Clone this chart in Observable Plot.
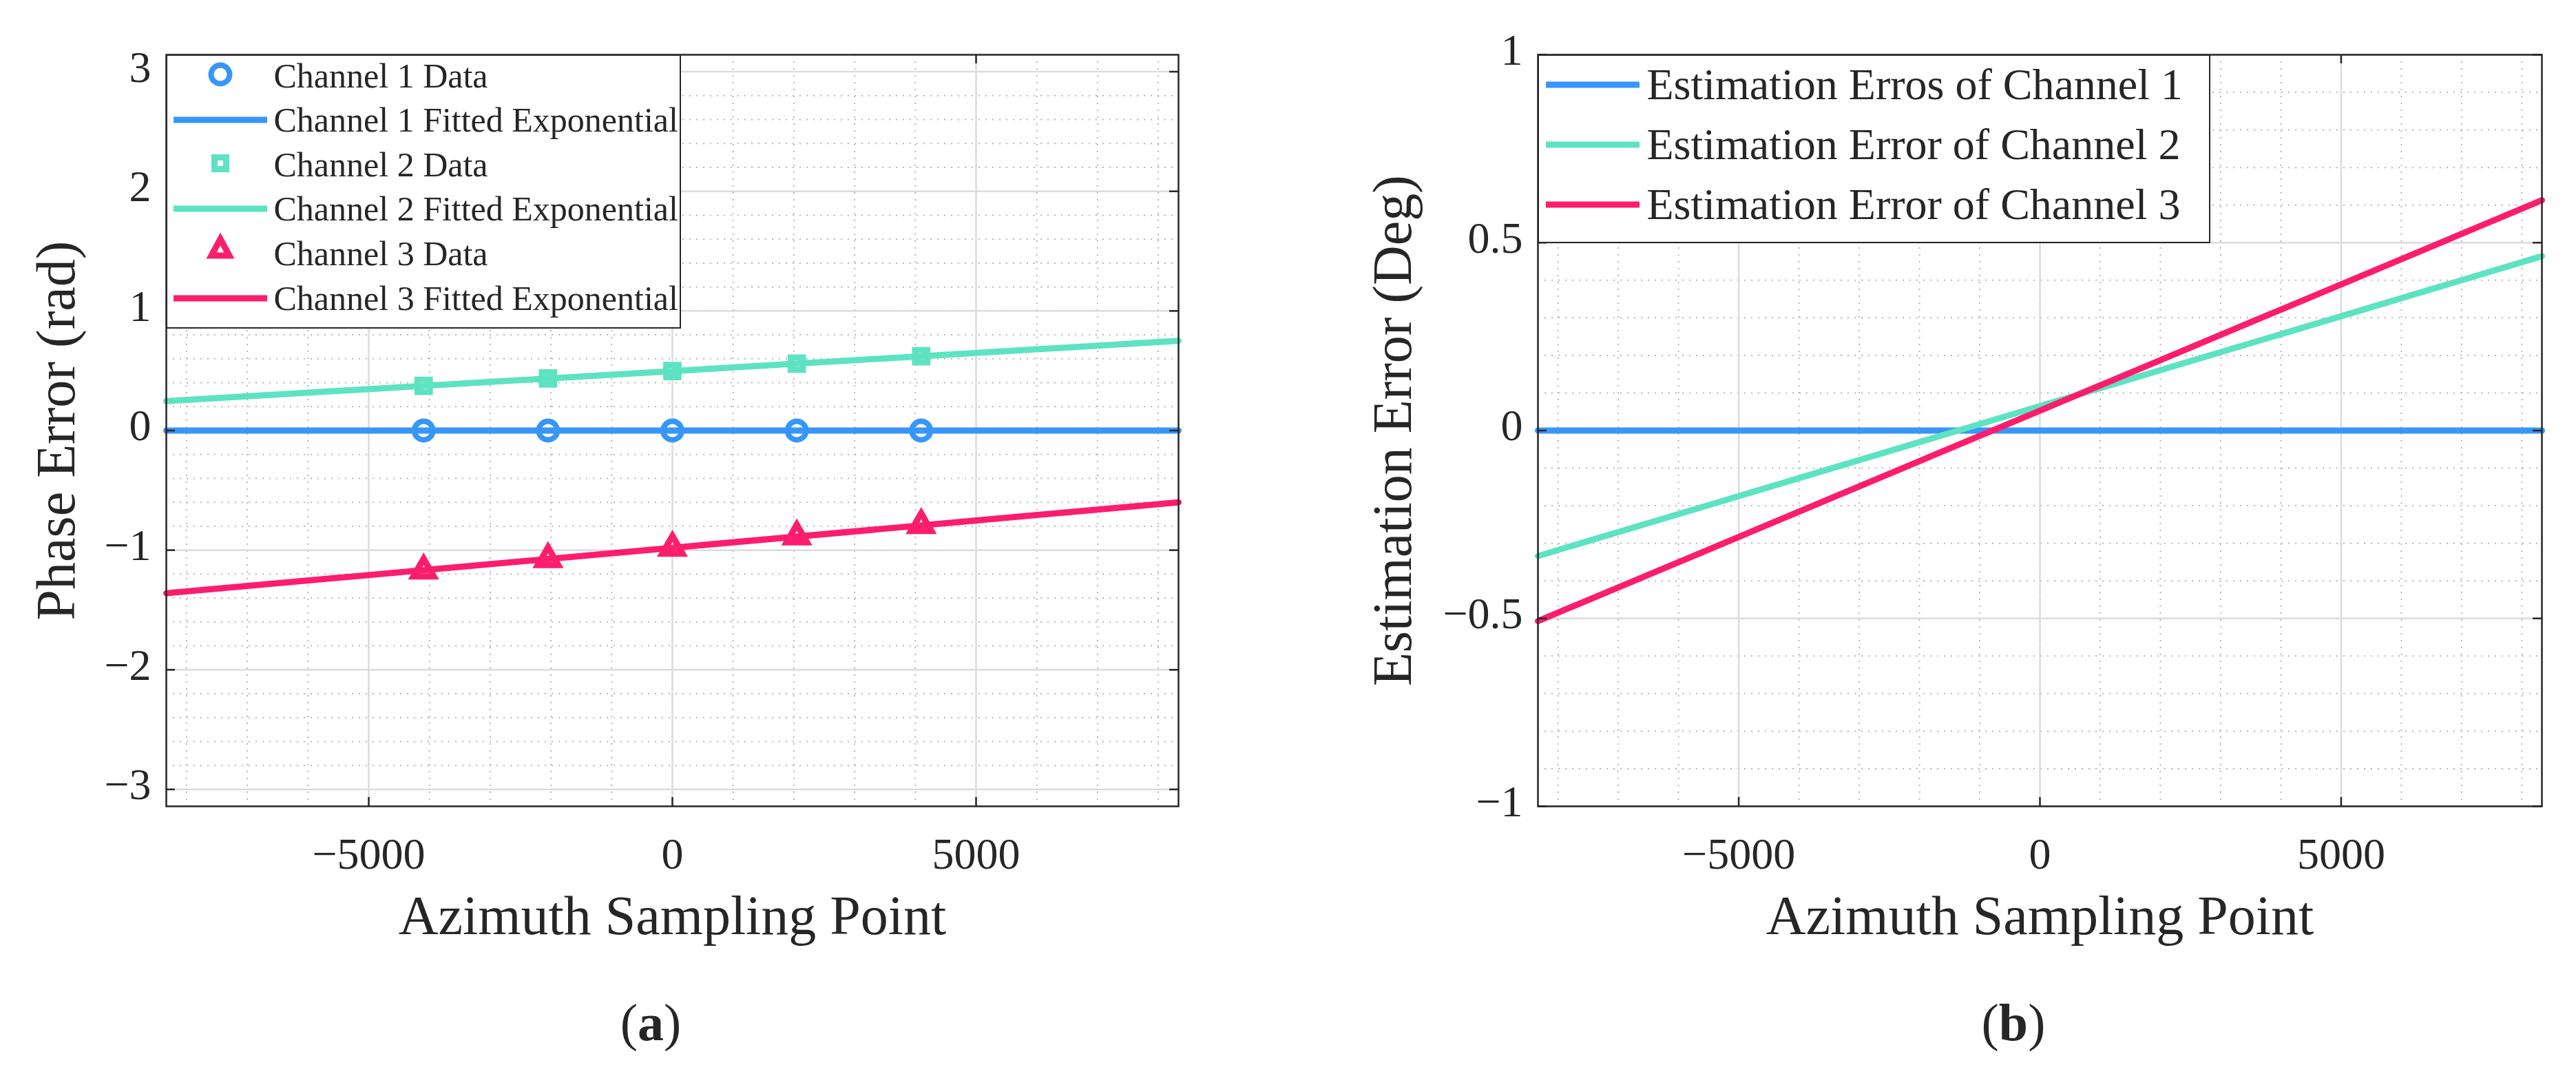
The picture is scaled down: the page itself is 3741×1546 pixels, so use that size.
<!DOCTYPE html>
<html>
<head>
<meta charset="utf-8">
<script src="https://cdn.jsdelivr.net/npm/d3@7"></script>
<script src="https://cdn.jsdelivr.net/npm/@observablehq/plot@0.6"></script>
<style>
  html, body { margin: 0; padding: 0; background: #fff; }
  #fig { position: relative; width: 3741px; height: 1546px; background: #fff;
         font-family: "Liberation Serif", serif; color: #262626; }
  .panel { position: absolute; top: 0; height: 1546px; }
  .legend { position: absolute; background: #fff; border: 2.5px solid #262626; box-sizing: border-box; }
  .row { position: absolute; left: 0; display: flex; align-items: center; white-space: nowrap; line-height: 1; }
  .row svg { position: absolute; left: 0; }
  .row span { position: absolute; }
  .cap { position: absolute; font-size: 76px; line-height: 1; text-align: center; width: 300px; }
</style>
</head>
<body>
<div id="fig">
  <div class="panel" id="panelA" style="left:0; width:1870px"></div>
  <div class="panel" id="panelB" style="left:1870px; width:1871px"></div>
  <div class="cap" style="left:795px; top:1446px">(<b>a</b>)</div>
  <div class="cap" style="left:2774px; top:1446px">(<b>b</b>)</div>
</div>
<script>
// valores
const xDomain = [-8333, 8333];
const xTicks = [-5000, 0, 5000];
const xMinor = d3.range(-8000, 8001, 1000);
const yTicksA = [-3, -2, -1, 0, 1, 2, 3];
const yMinorA = d3.range(-30, 31, 2).map(d => d / 10);
const yTicksB = [-1, -0.5, 0, 0.5, 1];
const yMinorB = d3.range(-10, 11, 1).map(d => d / 10);

// (a) datos de fase por canal
const sampleX = [-4096, -2048, 0, 2048, 4096];
const ch1Data = [0, 0, 0, 0, 0];
const ch2Data = [0.373, 0.435, 0.497, 0.559, 0.621];
const ch3Data = [-1.17, -1.075, -0.98, -0.885, -0.79];

const fitX = [-8333, 0, 8333];
const ch1Fit = [0, 0, 0];
const ch2Fit = [0.246, 0.497, 0.75];
const ch3Fit = [-1.36, -0.98, -0.60];

// (b) errores de estimación
const errX = [-8333, 0, 8333];
const err1 = [0, 0, 0];
const err2 = [-0.334, 0.065, 0.464];
const err3 = [-0.507, 0.053, 0.613];

const colors = ["#3796f8", "#5de3c2", "#fd1d6d"];
const ink = "#262626";
const fmt = d3.format("");

function panel({width, marginLeft, marginRight, yDomain, yTicks, yMinor, yLabel, labelDx, marks}) {
  const top = 79, bottom = 1170, H = 1546, tick = 13;
  const plotW = width - marginLeft - marginRight, plotH = bottom - top;
  return Plot.plot({
    width, height: H, marginLeft, marginRight, marginTop: top, marginBottom: H - bottom,
    style: {fontFamily: '"Liberation Serif", serif', fontSize: "64px", color: ink,
            background: "transparent", overflow: "visible"},
    x: {domain: xDomain, label: null},
    y: {domain: yDomain, label: null},
    marks: [
      Plot.gridX(xMinor, {stroke: "#b8b8b8", strokeOpacity: 1, strokeWidth: 2, strokeDasharray: "2,8"}),
      Plot.gridY(yMinor, {stroke: "#b8b8b8", strokeOpacity: 1, strokeWidth: 2, strokeDasharray: "2,8"}),
      Plot.gridX(xTicks, {stroke: "#dcdcdc", strokeOpacity: 1, strokeWidth: 2.5}),
      Plot.gridY(yTicks, {stroke: "#dcdcdc", strokeOpacity: 1, strokeWidth: 2.5}),
      ...marks,
      // ticks hacia dentro, en los cuatro lados
      Plot.tickX(xTicks, {x: d => d, insetTop: plotH - tick, stroke: ink, strokeWidth: 2.5}),
      Plot.tickX(xTicks, {x: d => d, insetBottom: plotH - tick, stroke: ink, strokeWidth: 2.5}),
      Plot.tickY(yTicks, {y: d => d, insetRight: plotW - tick, stroke: ink, strokeWidth: 2.5}),
      Plot.tickY(yTicks, {y: d => d, insetLeft: plotW - tick, stroke: ink, strokeWidth: 2.5}),
      Plot.frame({stroke: ink, strokeWidth: 2.5}),
      Plot.axisX(xTicks, {tickSize: 0, tickPadding: 45, label: null, tickFormat: fmt}),
      Plot.axisY(yTicks, {tickSize: 0, tickPadding: 22, label: null, tickFormat: fmt, dy: -6}),
      Plot.text([yLabel], {frameAnchor: "left", textAnchor: "middle", dx: labelDx, rotate: -90, fontSize: 80, fill: ink}),
      Plot.text(["Azimuth Sampling Point"], {frameAnchor: "bottom", textAnchor: "middle", dy: 185, fontSize: 80, fill: ink})
    ]
  });
}

const fitLine = (xs, ys, c) => Plot.line(xs, {x: d => d, y: (d, i) => ys[i], stroke: c, strokeWidth: 9});

const chartA = panel({
  width: 1870, marginLeft: 241, marginRight: 159,
  yDomain: [-Math.PI, Math.PI], yTicks: yTicksA, yMinor: yMinorA,
  yLabel: "Phase Error (rad)", labelDx: -159,
  marks: [
    Plot.dot(sampleX, {x: d => d, y: (d, i) => ch1Data[i], r: 13.5, stroke: colors[0], strokeWidth: 8, fill: "white"}),
    Plot.dot(sampleX, {x: d => d, y: (d, i) => ch2Data[i], symbol: "square", r: 10, stroke: colors[1], strokeWidth: 9, fill: "white"}),
    Plot.dot(sampleX, {x: d => d, y: (d, i) => ch3Data[i], symbol: "triangle", r: 11, stroke: colors[2], strokeWidth: 9, fill: "white", strokeLinejoin: "miter"}),
    fitLine(fitX, ch1Fit, colors[0]),
    fitLine(fitX, ch2Fit, colors[1]),
    fitLine(fitX, ch3Fit, colors[2])
  ]
});
d3.select("#panelA").append(() => chartA);

const chartB = panel({
  width: 1871, marginLeft: 363, marginRight: 50,
  yDomain: [-1, 1], yTicks: yTicksB, yMinor: yMinorB,
  yLabel: "Estimation Error (Deg)", labelDx: -210,
  marks: [
    fitLine(errX, err1, colors[0]),
    fitLine(errX, err2, colors[1]),
    fitLine(errX, err3, colors[2])
  ]
});
d3.select("#panelB").append(() => chartB);

// leyendas (cajas dentro del área del gráfico)
function swatch(kind, c, cx) {
  const cy = 29;
  if (kind === "line") return `<line x1="${cx - 68}" x2="${cx + 68}" y1="${cy}" y2="${cy}" stroke="${c}" stroke-width="9"/>`;
  if (kind === "circle") return `<circle cx="${cx}" cy="${cy - 2}" r="13.5" fill="white" stroke="${c}" stroke-width="8"/>`;
  if (kind === "square") return `<rect x="${cx - 8.5}" y="${cy - 10.5}" width="17" height="17" fill="white" stroke="${c}" stroke-width="9"/>`;
  return `<polygon points="${cx},${cy - 21} ${cx + 13},${cy + 3} ${cx - 13},${cy + 3}" fill="white" stroke="${c}" stroke-width="9" stroke-linejoin="miter"/>`;
}

function legend({left, top, width, height, rows, fontSize, first, step, cx, textLeft}) {
  const box = d3.select("#fig").append("div").attr("class", "legend")
    .style("left", left + "px").style("top", top + "px")
    .style("width", width + "px").style("height", height + "px");
  rows.forEach((r, i) => {
    const row = box.append("div").attr("class", "row")
      .style("top", (first + i * step - 2.5 - 24) + "px").style("height", "48px").style("width", "100%");
    row.append("svg").attr("width", 160).attr("height", 58).style("top", "-5px").style("overflow", "visible")
      .html(swatch(r.kind, r.color, cx));
    row.append("span").style("left", (textLeft - 2.5) + "px").style("font-size", fontSize + "px")
      .style("top", (24 - fontSize / 2) + "px").text(r.label);
  });
}

const legendA = ["Channel 1 Data", "Channel 1 Fitted Exponential", "Channel 2 Data",
                 "Channel 2 Fitted Exponential", "Channel 3 Data", "Channel 3 Fitted Exponential"];
const legendB = ["Estimation Erros of Channel 1", "Estimation Error of Channel 2", "Estimation Error of Channel 3"];

legend({
  left: 241, top: 79, width: 748, height: 398, fontSize: 50, first: 31, step: 64.6, cx: 77, textLeft: 157,
  rows: legendA.map((label, i) => ({label, color: colors[Math.floor(i / 2)],
    kind: i % 2 ? "line" : ["circle", "square", "triangle"][i / 2]}))
});
legend({
  left: 2233, top: 79, width: 977, height: 274, fontSize: 64, first: 44, step: 87, cx: 78, textLeft: 159,
  rows: legendB.map((label, i) => ({label, color: colors[i], kind: "line"}))
});
</script>
</body>
</html>
